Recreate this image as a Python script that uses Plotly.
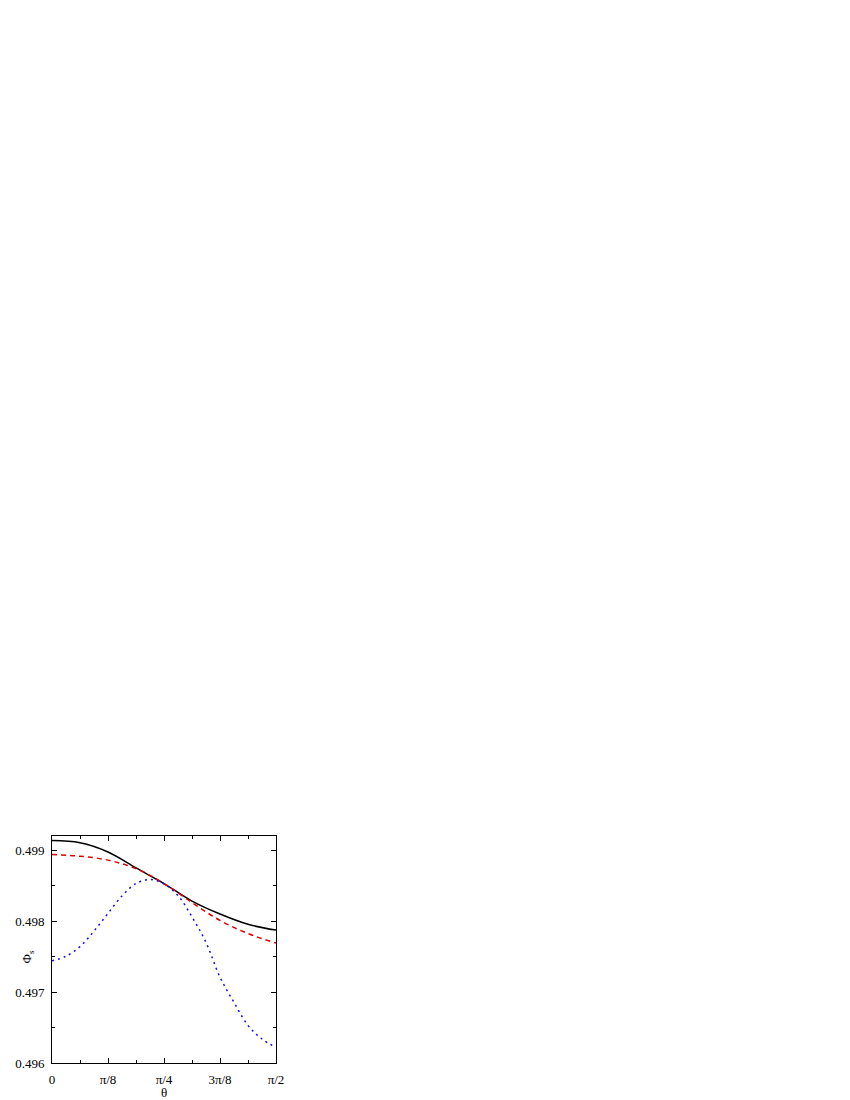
import numpy as np
import plotly.graph_objects as go

# theta in units of pi/16 (0 .. 8 -> 0 .. pi/2)
k_main = [0, 1, 2, 3, 4, 5, 6, 7, 8]
phi_solid = [0.499135, 0.499105, 0.498975, 0.498750, 0.498530, 0.498282, 0.498100, 0.497955, 0.497873]
phi_dash = [0.498938, 0.498915, 0.498860, 0.498740, 0.498530, 0.498262, 0.498010, 0.497825, 0.497690]

k_dot = [0, 0.5, 1, 1.5, 2, 2.5, 3, 3.5, 4, 4.5, 5, 5.5, 6, 6.5, 7, 7.5, 8]
phi_dot = [0.497440, 0.497505, 0.497640, 0.497860, 0.498110, 0.498355, 0.498530, 0.498586,
           0.498525, 0.498360, 0.498060, 0.497700, 0.497210, 0.496854, 0.496530, 0.496338, 0.496220]

tick_text = ["0", "π/8", "π/4", "3π/8", "π/2"]

to_rad = lambda ks: [k * np.pi / 16 for k in ks]

fig = go.Figure()
fig.add_trace(go.Scatter(x=to_rad(k_main), y=phi_solid, mode="lines", line_shape="spline",
                         line=dict(color="black", width=1.5)))
fig.add_trace(go.Scatter(x=to_rad(k_main), y=phi_dash, mode="lines", line_shape="spline",
                         line=dict(color="#e00000", width=1.5, dash="5px,4px")))
fig.add_trace(go.Scatter(x=to_rad(k_dot), y=phi_dot, mode="lines", line_shape="spline",
                         line=dict(color="#1010ee", width=1.5, dash="2px,4px")))

font = dict(family="Liberation Serif", size=13, color="black")
axis_common = dict(
    showline=True, linecolor="black", linewidth=1, mirror="ticks",
    ticks="inside", ticklen=5, tickwidth=1, tickcolor="black",
    showgrid=False, zeroline=False, automargin=False,
    tickfont=font,
)

fig.update_xaxes(
    **axis_common,
    range=[0, np.pi / 2],
    tickvals=[i * np.pi / 8 for i in range(5)],
    ticktext=tick_text,
    ticklabelstandoff=4,
    minor=dict(dtick=np.pi / 16, tick0=0, ticks="inside", ticklen=3, tickcolor="black"),
    title=dict(text="θ", font=font, standoff=0),
)
fig.update_yaxes(
    **axis_common,
    range=[0.496, 0.4992],
    tickvals=[0.496, 0.497, 0.498, 0.499],
    tickformat=".3f",
    ticklabelstandoff=4,
    minor=dict(dtick=0.0005, tick0=0.496, ticks="inside", ticklen=3, tickcolor="black"),
)

# y title sits between the tick labels, as in the original
fig.add_annotation(text="Φ<sub>s</sub>", xref="paper", yref="y", x=0, y=0.4975,
                   xanchor="center", yanchor="middle", xshift=-24, textangle=-90,
                   showarrow=False, font=font)

# page body adds an 8px margin, so the figure is a bit smaller than the window
fig.update_layout(
    width=842, height=1092,
    margin=dict(l=44, r=574, t=828, b=37),
    showlegend=False,
    plot_bgcolor="white",
    paper_bgcolor="white",
)

fig.write_html("out.html")
